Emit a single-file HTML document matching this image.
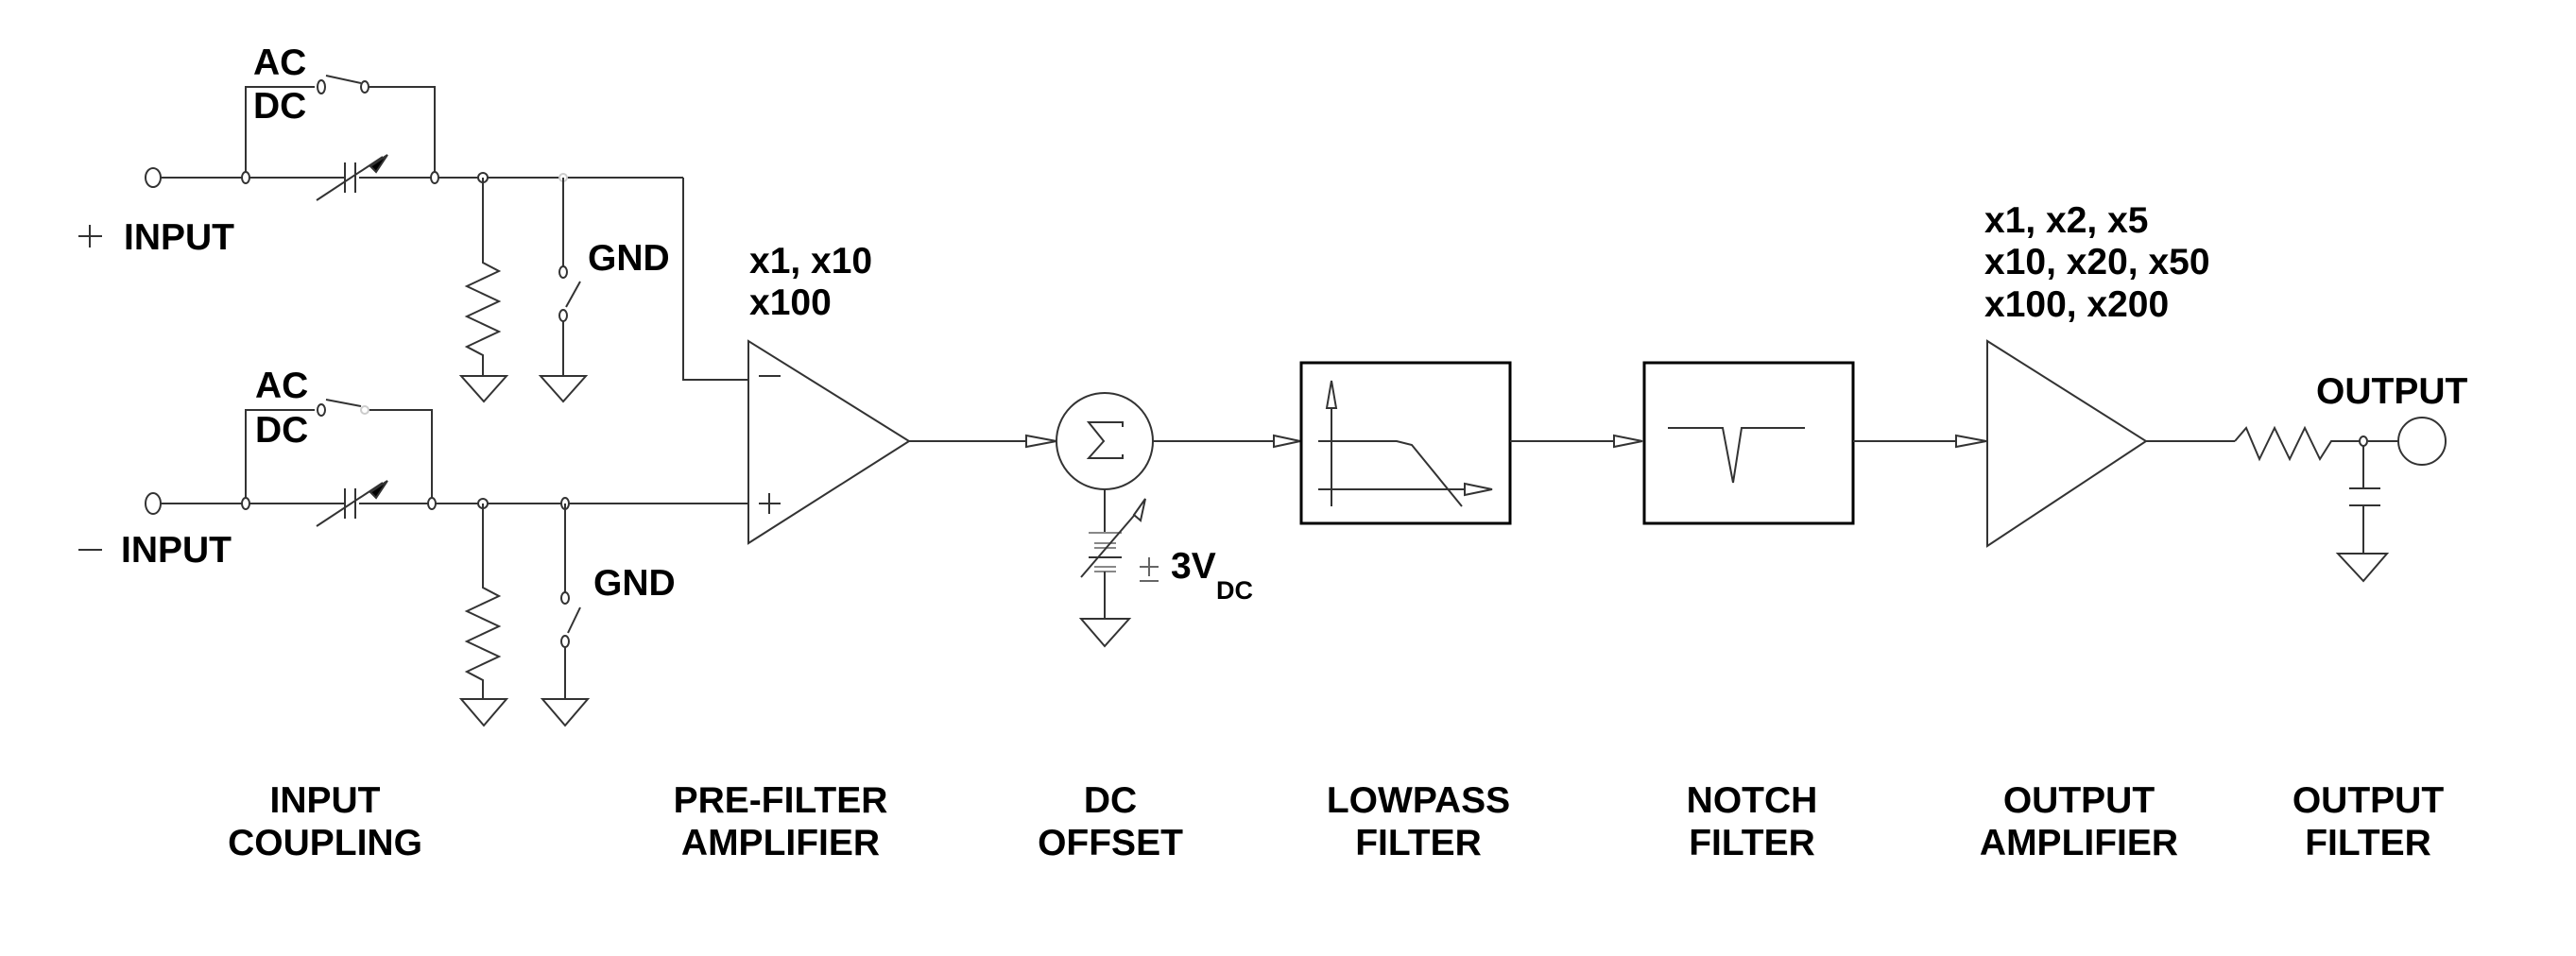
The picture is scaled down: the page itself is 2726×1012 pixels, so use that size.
<!DOCTYPE html>
<html><head><meta charset="utf-8"><style>
html,body{margin:0;padding:0;background:#fff;}
svg{display:block;}
text{font-family:"Liberation Sans",Arial,sans-serif;font-weight:bold;font-size:39px;fill:#000;}
</style></head><body>
<svg width="2726" height="1012" viewBox="0 0 2726 1012" xmlns="http://www.w3.org/2000/svg">
<g fill="none" stroke="#333" stroke-width="2">
<!-- top input channel -->
<ellipse cx="162" cy="188" rx="8" ry="10" fill="#fff"/>
<line x1="170" y1="188" x2="365" y2="188"/>
<line x1="380" y1="188" x2="723" y2="188"/>
<line x1="365" y1="172" x2="365" y2="204"/><line x1="376" y1="172" x2="376" y2="204"/>
<line x1="335" y1="212" x2="405" y2="166"/>
<path d="M392 176 L410 164 L398 182 Z" fill="#000"/>
<polyline points="260,188 260,92 333,92"/>
<polyline points="386,92 460,92 460,188"/>
<ellipse cx="340" cy="92" rx="4" ry="7" fill="#fff"/>
<ellipse cx="386" cy="92" rx="4" ry="6" fill="#fff"/>
<line x1="345" y1="80" x2="382" y2="88"/>
<ellipse cx="260" cy="188" rx="4" ry="6" fill="#fff"/>
<ellipse cx="460" cy="188" rx="4" ry="6" fill="#fff"/>
<ellipse cx="511" cy="188" rx="5" ry="5" fill="#fff"/>
<ellipse cx="596" cy="188" rx="4" ry="4" fill="#fff" stroke="#ccc"/>
<polyline points="511,188 511,278 528,287 494,303 528,319 494,335 528,351 494,367 511,376 511,398"/>
<path d="M488 398 L536 398 L512 425 Z"/>
<line x1="596" y1="188" x2="596" y2="283"/>
<ellipse cx="596" cy="288" rx="4" ry="6" fill="#fff"/>
<line x1="599" y1="325" x2="614" y2="298"/>
<ellipse cx="596" cy="334" rx="4" ry="6" fill="#fff"/>
<line x1="596" y1="340" x2="596" y2="398"/>
<path d="M572 398 L620 398 L596 425 Z"/>
<polyline points="723,188 723,402 791,402"/>
<!-- bottom input channel -->
<ellipse cx="162" cy="533" rx="8" ry="11" fill="#fff"/>
<line x1="170" y1="533" x2="365" y2="533"/>
<line x1="380" y1="533" x2="791" y2="533"/>
<line x1="365" y1="517" x2="365" y2="549"/><line x1="376" y1="517" x2="376" y2="549"/>
<line x1="335" y1="557" x2="405" y2="511"/>
<path d="M392 521 L410 509 L398 527 Z" fill="#000"/>
<polyline points="260,533 260,434 333,434"/>
<polyline points="386,434 457,434 457,533"/>
<ellipse cx="340" cy="434" rx="4" ry="6" fill="#fff"/>
<ellipse cx="386" cy="434" rx="4" ry="4" fill="#fff" stroke="#ccc"/>
<line x1="345" y1="423" x2="382" y2="430"/>
<ellipse cx="260" cy="533" rx="4" ry="6" fill="#fff"/>
<ellipse cx="457" cy="533" rx="4" ry="6" fill="#fff"/>
<ellipse cx="511" cy="533" rx="5" ry="5" fill="#fff"/>
<ellipse cx="598" cy="533" rx="4" ry="6" fill="#fff"/>
<polyline points="511,533 511,622 528,631 494,647 528,663 494,679 528,695 494,711 511,720 511,740"/>
<path d="M488 740 L536 740 L512 768 Z"/>
<line x1="598" y1="533" x2="598" y2="628"/>
<ellipse cx="598" cy="633" rx="4" ry="6" fill="#fff"/>
<line x1="601" y1="670" x2="614" y2="643"/>
<ellipse cx="598" cy="679" rx="4" ry="6" fill="#fff"/>
<line x1="598" y1="685" x2="598" y2="740"/>
<path d="M574 740 L622 740 L598 768 Z"/>
<!-- pre amp -->
<path d="M792 361 L792 575 L962 467 Z"/>
<line x1="803" y1="398" x2="826" y2="398"/>
<line x1="803" y1="533" x2="826" y2="533"/><line x1="814" y1="522" x2="814" y2="544"/>
<line x1="962" y1="467" x2="1118" y2="467"/>
<path d="M1086 461 L1118 467 L1086 473 Z" fill="#fff"/>
<!-- sum -->
<circle cx="1169" cy="467" r="51"/>
<polyline points="1188,452 1188,447 1152,447 1168,467 1152,485 1188,485 1188,481"/>
<line x1="1169" y1="518" x2="1169" y2="564"/>
<line x1="1152" y1="564" x2="1187" y2="564" stroke="#888"/>
<line x1="1158" y1="575" x2="1181" y2="575" stroke="#888"/>
<line x1="1158" y1="580" x2="1181" y2="580" stroke="#888"/>
<line x1="1152" y1="590" x2="1187" y2="590"/>
<line x1="1158" y1="600" x2="1181" y2="600" stroke="#888"/>
<line x1="1158" y1="605" x2="1181" y2="605" stroke="#888"/>
<line x1="1169" y1="605" x2="1169" y2="655"/>
<path d="M1144 655 L1195 655 L1169 684 Z"/>
<line x1="1144" y1="611" x2="1205" y2="540"/>
<path d="M1200 545 L1212 528 L1207 551 Z" fill="#fff"/>
<line x1="1220" y1="467" x2="1376" y2="467"/>
<path d="M1348 461 L1376 467 L1348 473 Z" fill="#fff"/>
<!-- lowpass -->
<rect x="1377" y="384" width="221" height="170" stroke="#000" stroke-width="3"/>
<line x1="1409" y1="420" x2="1409" y2="536"/>
<path d="M1404 432 L1409 403 L1414 432 Z" fill="#fff"/>
<line x1="1395" y1="518" x2="1550" y2="518"/>
<path d="M1550 512 L1579 518 L1550 524 Z" fill="#fff"/>
<polyline points="1395,467 1478,467 1494,471 1547,536"/>
<line x1="1598" y1="467" x2="1738" y2="467"/>
<path d="M1708 461 L1738 467 L1708 473 Z" fill="#fff"/>
<!-- notch -->
<rect x="1740" y="384" width="221" height="170" stroke="#000" stroke-width="3"/>
<polyline points="1765,453 1823,453 1834,511 1843,453 1910,453"/>
<line x1="1961" y1="467" x2="2102" y2="467"/>
<path d="M2070 461 L2102 467 L2070 473 Z" fill="#fff"/>
<!-- out amp -->
<path d="M2103 361 L2103 578 L2271 467 Z"/>
<line x1="2271" y1="467" x2="2365" y2="467"/>
<polyline points="2365,467 2377,453 2391,486 2407,453 2423,486 2439,453 2455,486 2467,467 2497,467"/>
<ellipse cx="2501" cy="467" rx="4" ry="5" fill="#fff"/>
<line x1="2506" y1="467" x2="2538" y2="467"/>
<circle cx="2563" cy="467" r="25"/>
<line x1="2501" y1="472" x2="2501" y2="517"/>
<line x1="2486" y1="517" x2="2519" y2="517"/>
<line x1="2486" y1="535" x2="2519" y2="535"/>
<line x1="2501" y1="535" x2="2501" y2="586"/>
<path d="M2474 586 L2526 586 L2501 615 Z"/>
<!-- input signs -->
<line x1="83" y1="250" x2="108" y2="250"/><line x1="95" y1="238" x2="95" y2="262"/>
<line x1="83" y1="582" x2="108" y2="582"/>
<!-- ± -->
<line x1="1206" y1="600" x2="1226" y2="600" stroke="#666"/><line x1="1216" y1="590" x2="1216" y2="610" stroke="#666"/>
<line x1="1206" y1="615" x2="1226" y2="615" stroke="#666"/>
</g>
<g>
<text x="268" y="79">AC</text>
<text x="268" y="125">DC</text>
<text x="131" y="264">INPUT</text>
<text x="622" y="286">GND</text>
<text x="270" y="421">AC</text>
<text x="270" y="468">DC</text>
<text x="128" y="595">INPUT</text>
<text x="628" y="630">GND</text>
<text x="793" y="289">x1, x10</text>
<text x="793" y="333">x100</text>
<text x="1239" y="612">3V</text>
<text x="1287" y="634" style="font-size:27px">DC</text>
<text x="2100" y="246">x1, x2, x5</text>
<text x="2100" y="290">x10, x20, x50</text>
<text x="2100" y="335">x100, x200</text>
<text x="2451" y="427">OUTPUT</text>
</g>
<g text-anchor="middle">
<text x="344" y="860">INPUT</text><text x="344" y="905">COUPLING</text>
<text x="826" y="860">PRE-FILTER</text><text x="826" y="905">AMPLIFIER</text>
<text x="1175" y="860">DC</text><text x="1175" y="905">OFFSET</text>
<text x="1501" y="860">LOWPASS</text><text x="1501" y="905">FILTER</text>
<text x="1854" y="860">NOTCH</text><text x="1854" y="905">FILTER</text>
<text x="2200" y="860">OUTPUT</text><text x="2200" y="905">AMPLIFIER</text>
<text x="2506" y="860">OUTPUT</text><text x="2506" y="905">FILTER</text>
</g>
</svg>
</body></html>
